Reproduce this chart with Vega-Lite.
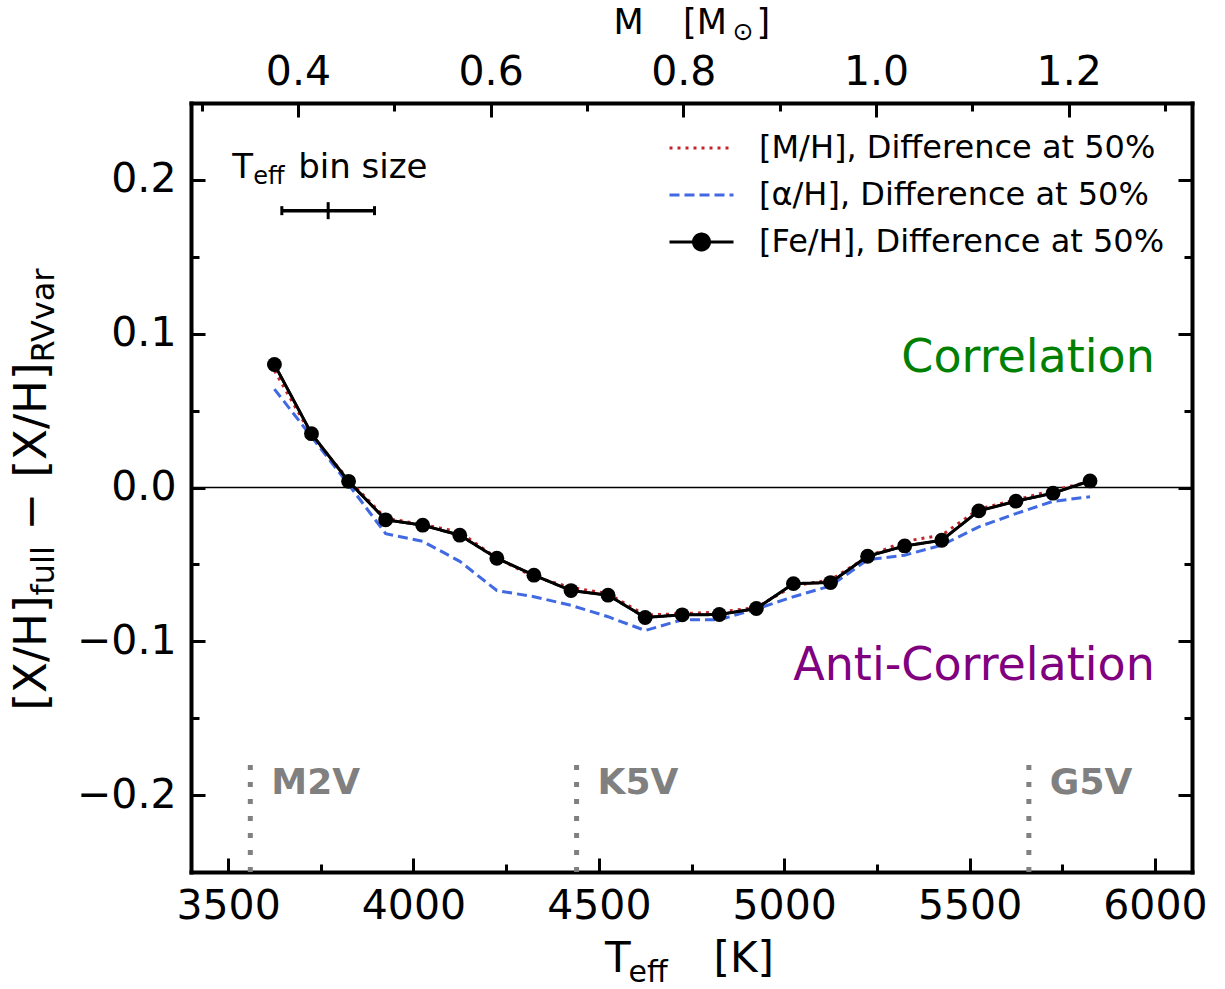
{
"$schema":"https://vega.github.io/schema/vega-lite/v6.json",
"width":1001,"height":769,
"autosize":{"type":"none"},
"padding":{"left":191,"top":103,"right":33,"bottom":117},
"background":"white",
"config":{"font":"DejaVu Sans","view":{"stroke":null},
 "axis":{"grid":false,"domainColor":"black","tickColor":"black","labelColor":"black","labelFont":"DejaVu Sans","labelFontSize":41,"domainWidth":4,"domainCap":"square","tickWidth":3,"tickCap":"butt","labelFlush":false,"labelOverlap":false}},
"datasets":{
 "main":[
  {"T":3625,"s":"[M/H], Difference at 50%","v":0.076},{"T":3725,"s":"[M/H], Difference at 50%","v":0.034},{"T":3825,"s":"[M/H], Difference at 50%","v":0.005},{"T":3925,"s":"[M/H], Difference at 50%","v":-0.020},{"T":4025,"s":"[M/H], Difference at 50%","v":-0.024},{"T":4125,"s":"[M/H], Difference at 50%","v":-0.029},{"T":4225,"s":"[M/H], Difference at 50%","v":-0.046},{"T":4325,"s":"[M/H], Difference at 50%","v":-0.058},{"T":4425,"s":"[M/H], Difference at 50%","v":-0.065},{"T":4525,"s":"[M/H], Difference at 50%","v":-0.069},{"T":4625,"s":"[M/H], Difference at 50%","v":-0.083},{"T":4725,"s":"[M/H], Difference at 50%","v":-0.082},{"T":4825,"s":"[M/H], Difference at 50%","v":-0.081},{"T":4925,"s":"[M/H], Difference at 50%","v":-0.078},{"T":5025,"s":"[M/H], Difference at 50%","v":-0.064},{"T":5125,"s":"[M/H], Difference at 50%","v":-0.060},{"T":5225,"s":"[M/H], Difference at 50%","v":-0.045},{"T":5325,"s":"[M/H], Difference at 50%","v":-0.035},{"T":5425,"s":"[M/H], Difference at 50%","v":-0.031},{"T":5525,"s":"[M/H], Difference at 50%","v":-0.014},{"T":5625,"s":"[M/H], Difference at 50%","v":-0.008},{"T":5725,"s":"[M/H], Difference at 50%","v":-0.002},{"T":5825,"s":"[M/H], Difference at 50%","v":0.004},
  {"T":3625,"s":"[α/H], Difference at 50%","v":0.064},{"T":3725,"s":"[α/H], Difference at 50%","v":0.033},{"T":3825,"s":"[α/H], Difference at 50%","v":0.002},{"T":3925,"s":"[α/H], Difference at 50%","v":-0.030},{"T":4025,"s":"[α/H], Difference at 50%","v":-0.035},{"T":4125,"s":"[α/H], Difference at 50%","v":-0.048},{"T":4225,"s":"[α/H], Difference at 50%","v":-0.067},{"T":4325,"s":"[α/H], Difference at 50%","v":-0.071},{"T":4425,"s":"[α/H], Difference at 50%","v":-0.0766},{"T":4525,"s":"[α/H], Difference at 50%","v":-0.084},{"T":4625,"s":"[α/H], Difference at 50%","v":-0.093},{"T":4725,"s":"[α/H], Difference at 50%","v":-0.086},{"T":4825,"s":"[α/H], Difference at 50%","v":-0.086},{"T":4925,"s":"[α/H], Difference at 50%","v":-0.079},{"T":5025,"s":"[α/H], Difference at 50%","v":-0.071},{"T":5125,"s":"[α/H], Difference at 50%","v":-0.064},{"T":5225,"s":"[α/H], Difference at 50%","v":-0.047},{"T":5325,"s":"[α/H], Difference at 50%","v":-0.044},{"T":5425,"s":"[α/H], Difference at 50%","v":-0.0375},{"T":5525,"s":"[α/H], Difference at 50%","v":-0.0256},{"T":5625,"s":"[α/H], Difference at 50%","v":-0.017},{"T":5725,"s":"[α/H], Difference at 50%","v":-0.009},{"T":5825,"s":"[α/H], Difference at 50%","v":-0.006},
  {"T":3625,"s":"[Fe/H], Difference at 50%","v":0.080},{"T":3725,"s":"[Fe/H], Difference at 50%","v":0.035},{"T":3825,"s":"[Fe/H], Difference at 50%","v":0.004},{"T":3925,"s":"[Fe/H], Difference at 50%","v":-0.021},{"T":4025,"s":"[Fe/H], Difference at 50%","v":-0.0245},{"T":4125,"s":"[Fe/H], Difference at 50%","v":-0.031},{"T":4225,"s":"[Fe/H], Difference at 50%","v":-0.046},{"T":4325,"s":"[Fe/H], Difference at 50%","v":-0.057},{"T":4425,"s":"[Fe/H], Difference at 50%","v":-0.067},{"T":4525,"s":"[Fe/H], Difference at 50%","v":-0.070},{"T":4625,"s":"[Fe/H], Difference at 50%","v":-0.0845},{"T":4725,"s":"[Fe/H], Difference at 50%","v":-0.0828},{"T":4825,"s":"[Fe/H], Difference at 50%","v":-0.0826},{"T":4925,"s":"[Fe/H], Difference at 50%","v":-0.0787},{"T":5025,"s":"[Fe/H], Difference at 50%","v":-0.0625},{"T":5125,"s":"[Fe/H], Difference at 50%","v":-0.0618},{"T":5225,"s":"[Fe/H], Difference at 50%","v":-0.0447},{"T":5325,"s":"[Fe/H], Difference at 50%","v":-0.038},{"T":5425,"s":"[Fe/H], Difference at 50%","v":-0.0343},{"T":5525,"s":"[Fe/H], Difference at 50%","v":-0.0152},{"T":5625,"s":"[Fe/H], Difference at 50%","v":-0.0089},{"T":5725,"s":"[Fe/H], Difference at 50%","v":-0.0037},{"T":5825,"s":"[Fe/H], Difference at 50%","v":0.0043}
 ],
 "spec":[{"T":3560,"sp":"M2V"},{"T":4440,"sp":"K5V"},{"T":5660,"sp":"G5V"}],
 "bin":[{"T":3770,"lo":3645,"hi":3895,"v":0.18}],
 "mass":[{"M":0.3},{"M":0.4},{"M":0.5},{"M":0.6},{"M":0.7},{"M":0.8},{"M":0.9},{"M":1.0},{"M":1.1},{"M":1.2},{"M":1.3}]
},
"resolve":{"scale":{"x":"independent"},"axis":{"x":"independent","y":"independent"}},
"layer":[
 {"data":{"name":"spec"},"mark":{"type":"rule","color":"#808080","strokeWidth":5,"strokeDash":[5,12]},
  "encoding":{"x":{"field":"T","type":"quantitative","scale":{"domain":[3400,6100],"nice":false,"zero":false},"axis":null},
   "y":{"datum":-0.25,"type":"quantitative","scale":{"domain":[-0.25,0.25],"nice":false,"zero":false},"axis":null},
   "y2":{"datum":-0.18}}},
 {"data":{"name":"spec"},"mark":{"type":"text","align":"left","baseline":"alphabetic","dx":21,"fontSize":36,"fontWeight":"bold","color":"#808080"},
  "encoding":{"x":{"field":"T","type":"quantitative","scale":{"domain":[3400,6100],"nice":false,"zero":false},"axis":null},
   "y":{"datum":-0.199,"type":"quantitative","scale":{"domain":[-0.25,0.25],"nice":false,"zero":false},"axis":null},
   "text":{"field":"sp"}}},
 {"mark":{"type":"rule","color":"black","strokeWidth":1.5},"data":{"values":[{"z":0}]},
  "encoding":{"y":{"field":"z","type":"quantitative","scale":{"domain":[-0.25,0.25],"nice":false,"zero":false},"axis":null}}},
 {"data":{"name":"main"},"mark":{"type":"line","strokeWidth":3},
  "encoding":{
   "x":{"field":"T","type":"quantitative","scale":{"domain":[3400,6100],"nice":false,"zero":false},"axis":{"orient":"bottom","values":[3500,4000,4500,5000,5500,6000],"format":"d","tickSize":-14,"labelPadding":60,"labelBaseline":"alphabetic","title":null}},
   "y":{"field":"v","type":"quantitative","scale":{"domain":[-0.25,0.25],"nice":false,"zero":false},"axis":{"orient":"left","values":[-0.2,-0.1,0,0.1,0.2],"format":".1f","tickSize":-14,"labelPadding":29,"title":null}},
   "color":{"field":"s","type":"nominal","scale":{"domain":["[M/H], Difference at 50%","[α/H], Difference at 50%","[Fe/H], Difference at 50%"],"range":["#c0262b","#4169e1","#000000"]},
    "legend":{"title":null,"orient":"none","legendX":477,"legendY":25,"symbolType":"stroke","symbolSize":4096,"symbolStrokeWidth":3,"labelFont":"DejaVu Sans","labelFontSize":32,"labelColor":"black","labelLimit":1000,"labelOffset":24,"rowPadding":7,"clipHeight":40,"padding":0,
     "encode":{"symbols":{"update":{"shape":{"signal":"datum.value === '[Fe/H], Difference at 50%' ? 'M-1,0L1,0M0.25,0A0.25,0.25,0,1,1,-0.25,0A0.25,0.25,0,1,1,0.25,0Z' : 'stroke'"},"fill":{"signal":"datum.value === '[Fe/H], Difference at 50%' ? 'black' : 'transparent'"}}}}}},
   "strokeDash":{"field":"s","type":"nominal","scale":{"domain":["[M/H], Difference at 50%","[α/H], Difference at 50%","[Fe/H], Difference at 50%"],"range":[[3,5],[10,5],[1,0]]}}
  }},
 {"data":{"name":"main"},"transform":[{"filter":"datum.s === '[Fe/H], Difference at 50%'"}],"mark":{"type":"line","strokeWidth":2.5,"color":"black"},
  "encoding":{"x":{"field":"T","type":"quantitative","scale":{"domain":[3400,6100],"nice":false,"zero":false},"axis":null},
   "y":{"field":"v","type":"quantitative","scale":{"domain":[-0.25,0.25],"nice":false,"zero":false},"axis":null}}},
 {"data":{"name":"main"},"transform":[{"filter":"datum.s === '[Fe/H], Difference at 50%'"}],"mark":{"type":"circle","size":220,"color":"black","opacity":1},
  "encoding":{"x":{"field":"T","type":"quantitative","scale":{"domain":[3400,6100],"nice":false,"zero":false},"axis":null},
   "y":{"field":"v","type":"quantitative","scale":{"domain":[-0.25,0.25],"nice":false,"zero":false},"axis":null}}},
 {"data":{"name":"main"},"mark":{"type":"point","opacity":0},
  "encoding":{"x":{"field":"T","type":"quantitative","scale":{"domain":[3400,6100],"nice":false,"zero":false},"axis":{"orient":"bottom","values":[3750,4250,4750,5250,5750],"labels":false,"domain":false,"tickSize":-8,"title":null}},
   "y":{"field":"v","type":"quantitative","scale":{"domain":[-0.25,0.25],"nice":false,"zero":false},"axis":{"orient":"left","values":[-0.15,-0.05,0.05,0.15],"labels":false,"domain":false,"tickSize":-8,"title":null}}}},
 {"data":{"name":"main"},"mark":{"type":"point","opacity":0},
  "encoding":{"x":{"field":"T","type":"quantitative","scale":{"domain":[3400,6100],"nice":false,"zero":false},"axis":null},
   "y":{"field":"v","type":"quantitative","scale":{"domain":[-0.25,0.25],"nice":false,"zero":false},"axis":{"orient":"right","values":[-0.2,-0.1,0,0.1,0.2],"labels":false,"domain":true,"tickSize":-14,"title":null}}}},
 {"data":{"name":"main"},"mark":{"type":"point","opacity":0},
  "encoding":{"x":{"field":"T","type":"quantitative","scale":{"domain":[3400,6100],"nice":false,"zero":false},"axis":null},
   "y":{"field":"v","type":"quantitative","scale":{"domain":[-0.25,0.25],"nice":false,"zero":false},"axis":{"orient":"right","values":[-0.15,-0.05,0.05,0.15],"labels":false,"domain":false,"tickSize":-8,"title":null}}}},
 {"data":{"name":"mass"},"mark":{"type":"point","opacity":0},
  "encoding":{"x":{"field":"M","type":"quantitative","scale":{"domain":[0.289,1.328],"nice":false,"zero":false},"axis":{"orient":"top","values":[0.4,0.6,0.8,1.0,1.2],"format":".1f","tickSize":-14,"labelPadding":33,"labelBaseline":"alphabetic","title":null}},
   "y":{"datum":0,"type":"quantitative","scale":{"domain":[-0.25,0.25],"nice":false,"zero":false},"axis":null}}},
 {"data":{"name":"mass"},"mark":{"type":"point","opacity":0},
  "encoding":{"x":{"field":"M","type":"quantitative","scale":{"domain":[0.289,1.328],"nice":false,"zero":false},"axis":{"orient":"top","values":[0.3,0.5,0.7,0.9,1.1,1.3],"labels":false,"domain":false,"tickSize":-8,"title":null}},
   "y":{"datum":0,"type":"quantitative","scale":{"domain":[-0.25,0.25],"nice":false,"zero":false},"axis":null}}},
 {"data":{"name":"bin"},"mark":{"type":"rule","color":"black","strokeWidth":3.5,"opacity":1},
  "encoding":{"x":{"field":"lo","type":"quantitative","scale":{"domain":[3400,6100],"nice":false,"zero":false},"axis":null},"x2":{"field":"hi"},
   "y":{"field":"v","type":"quantitative","scale":{"domain":[-0.25,0.25],"nice":false,"zero":false},"axis":null}}},
 {"data":{"name":"bin"},"mark":{"type":"tick","orient":"vertical","color":"black","opacity":1,"thickness":3,"size":9},
  "encoding":{"x":{"field":"lo","type":"quantitative","scale":{"domain":[3400,6100],"nice":false,"zero":false},"axis":null},
   "y":{"field":"v","type":"quantitative","scale":{"domain":[-0.25,0.25],"nice":false,"zero":false},"axis":null}}},
 {"data":{"name":"bin"},"mark":{"type":"tick","orient":"vertical","color":"black","opacity":1,"thickness":3,"size":9},
  "encoding":{"x":{"field":"hi","type":"quantitative","scale":{"domain":[3400,6100],"nice":false,"zero":false},"axis":null},
   "y":{"field":"v","type":"quantitative","scale":{"domain":[-0.25,0.25],"nice":false,"zero":false},"axis":null}}},
 {"data":{"name":"bin"},"mark":{"type":"tick","orient":"vertical","color":"black","opacity":1,"thickness":3,"size":17},
  "encoding":{"x":{"field":"T","type":"quantitative","scale":{"domain":[3400,6100],"nice":false,"zero":false},"axis":null},
   "y":{"field":"v","type":"quantitative","scale":{"domain":[-0.25,0.25],"nice":false,"zero":false},"axis":null}}},
 {"data":{"values":[{"label":"T"}]},"mark":{"type":"text","align":"left","baseline":"alphabetic","fontSize":34,"color":"black","dx":-96,"dy":-2},
  "encoding":{"x":{"datum":3770,"type":"quantitative","scale":{"domain":[3400,6100],"nice":false,"zero":false},"axis":null},"y":{"datum":0.2,"type":"quantitative","scale":{"domain":[-0.25,0.25],"nice":false,"zero":false},"axis":null},"text":{"field":"label"}}},
 {"data":{"values":[{"label":"eff"}]},"mark":{"type":"text","align":"left","baseline":"alphabetic","fontSize":24,"color":"black","dx":-75,"dy":4},
  "encoding":{"x":{"datum":3770,"type":"quantitative","scale":{"domain":[3400,6100],"nice":false,"zero":false},"axis":null},"y":{"datum":0.2,"type":"quantitative","scale":{"domain":[-0.25,0.25],"nice":false,"zero":false},"axis":null},"text":{"field":"label"}}},
 {"data":{"values":[{"label":"bin size"}]},"mark":{"type":"text","align":"left","baseline":"alphabetic","fontSize":34,"color":"black","dx":-30,"dy":-2},
  "encoding":{"x":{"datum":3770,"type":"quantitative","scale":{"domain":[3400,6100],"nice":false,"zero":false},"axis":null},"y":{"datum":0.2,"type":"quantitative","scale":{"domain":[-0.25,0.25],"nice":false,"zero":false},"axis":null},"text":{"field":"label"}}},
 {"data":{"values":[{"label":"Correlation"}]},"mark":{"type":"text","align":"right","baseline":"alphabetic","fontSize":46,"color":"#008000"},
  "encoding":{"x":{"datum":6000,"type":"quantitative","scale":{"domain":[3400,6100],"nice":false,"zero":false},"axis":null},"y":{"datum":0.075,"type":"quantitative","scale":{"domain":[-0.25,0.25],"nice":false,"zero":false},"axis":null},"text":{"field":"label"}}},
 {"data":{"values":[{"label":"Anti-Correlation"}]},"mark":{"type":"text","align":"right","baseline":"alphabetic","fontSize":46,"color":"#800080"},
  "encoding":{"x":{"datum":6000,"type":"quantitative","scale":{"domain":[3400,6100],"nice":false,"zero":false},"axis":null},"y":{"datum":-0.125,"type":"quantitative","scale":{"domain":[-0.25,0.25],"nice":false,"zero":false},"axis":null},"text":{"field":"label"}}},
 {"data":{"values":[{"label":"T"}]},"mark":{"type":"text","align":"left","baseline":"alphabetic","fontSize":42,"color":"black","dx":-86.5,"dy":100},
  "encoding":{"x":{"datum":4750,"type":"quantitative","scale":{"domain":[3400,6100],"nice":false,"zero":false},"axis":null},"y":{"datum":-0.25,"type":"quantitative","scale":{"domain":[-0.25,0.25],"nice":false,"zero":false},"axis":null},"text":{"field":"label"}}},
 {"data":{"values":[{"label":"eff"}]},"mark":{"type":"text","align":"left","baseline":"alphabetic","fontSize":30,"color":"black","dx":-63,"dy":110},
  "encoding":{"x":{"datum":4750,"type":"quantitative","scale":{"domain":[3400,6100],"nice":false,"zero":false},"axis":null},"y":{"datum":-0.25,"type":"quantitative","scale":{"domain":[-0.25,0.25],"nice":false,"zero":false},"axis":null},"text":{"field":"label"}}},
 {"data":{"values":[{"label":"[K]"}]},"mark":{"type":"text","align":"left","baseline":"alphabetic","fontSize":42,"color":"black","dx":22,"dy":100},
  "encoding":{"x":{"datum":4750,"type":"quantitative","scale":{"domain":[3400,6100],"nice":false,"zero":false},"axis":null},"y":{"datum":-0.25,"type":"quantitative","scale":{"domain":[-0.25,0.25],"nice":false,"zero":false},"axis":null},"text":{"field":"label"}}},
 {"data":{"values":[{"label":"M"}]},"mark":{"type":"text","align":"left","baseline":"alphabetic","fontSize":35,"color":"black","dx":-78,"dy":-69},
  "encoding":{"x":{"datum":4750,"type":"quantitative","scale":{"domain":[3400,6100],"nice":false,"zero":false},"axis":null},"y":{"datum":0.25,"type":"quantitative","scale":{"domain":[-0.25,0.25],"nice":false,"zero":false},"axis":null},"text":{"field":"label"}}},
 {"data":{"values":[{"label":"[M"}]},"mark":{"type":"text","align":"left","baseline":"alphabetic","fontSize":35,"color":"black","dx":-8.5,"dy":-69},
  "encoding":{"x":{"datum":4750,"type":"quantitative","scale":{"domain":[3400,6100],"nice":false,"zero":false},"axis":null},"y":{"datum":0.25,"type":"quantitative","scale":{"domain":[-0.25,0.25],"nice":false,"zero":false},"axis":null},"text":{"field":"label"}}},
 {"data":{"values":[{"label":"⊙"}]},"mark":{"type":"text","align":"left","baseline":"alphabetic","fontSize":25,"color":"black","dx":41,"dy":-63},
  "encoding":{"x":{"datum":4750,"type":"quantitative","scale":{"domain":[3400,6100],"nice":false,"zero":false},"axis":null},"y":{"datum":0.25,"type":"quantitative","scale":{"domain":[-0.25,0.25],"nice":false,"zero":false},"axis":null},"text":{"field":"label"}}},
 {"data":{"values":[{"label":"]"}]},"mark":{"type":"text","align":"left","baseline":"alphabetic","fontSize":35,"color":"black","dx":65,"dy":-69},
  "encoding":{"x":{"datum":4750,"type":"quantitative","scale":{"domain":[3400,6100],"nice":false,"zero":false},"axis":null},"y":{"datum":0.25,"type":"quantitative","scale":{"domain":[-0.25,0.25],"nice":false,"zero":false},"axis":null},"text":{"field":"label"}}},
 {"data":{"values":[{"label":"[X/H]"}]},"mark":{"type":"text","angle":270,"align":"left","baseline":"alphabetic","fontSize":45,"color":"black","dx":-223,"dy":-145},
  "encoding":{"x":{"datum":3400,"type":"quantitative","scale":{"domain":[3400,6100],"nice":false,"zero":false},"axis":null},"y":{"datum":0,"type":"quantitative","scale":{"domain":[-0.25,0.25],"nice":false,"zero":false},"axis":null},"text":{"field":"label"}}},
 {"data":{"values":[{"label":"full"}]},"mark":{"type":"text","angle":270,"align":"left","baseline":"alphabetic","fontSize":32,"color":"black","dx":-108,"dy":-137},
  "encoding":{"x":{"datum":3400,"type":"quantitative","scale":{"domain":[3400,6100],"nice":false,"zero":false},"axis":null},"y":{"datum":0,"type":"quantitative","scale":{"domain":[-0.25,0.25],"nice":false,"zero":false},"axis":null},"text":{"field":"label"}}},
 {"data":{"values":[{"label":"−"}]},"mark":{"type":"text","angle":270,"align":"left","baseline":"alphabetic","fontSize":45,"color":"black","dx":-43,"dy":-145},
  "encoding":{"x":{"datum":3400,"type":"quantitative","scale":{"domain":[3400,6100],"nice":false,"zero":false},"axis":null},"y":{"datum":0,"type":"quantitative","scale":{"domain":[-0.25,0.25],"nice":false,"zero":false},"axis":null},"text":{"field":"label"}}},
 {"data":{"values":[{"label":"[X/H]"}]},"mark":{"type":"text","angle":270,"align":"left","baseline":"alphabetic","fontSize":45,"color":"black","dx":10,"dy":-145},
  "encoding":{"x":{"datum":3400,"type":"quantitative","scale":{"domain":[3400,6100],"nice":false,"zero":false},"axis":null},"y":{"datum":0,"type":"quantitative","scale":{"domain":[-0.25,0.25],"nice":false,"zero":false},"axis":null},"text":{"field":"label"}}},
 {"data":{"values":[{"label":"RVvar"}]},"mark":{"type":"text","angle":270,"align":"left","baseline":"alphabetic","fontSize":32,"color":"black","dx":124.9,"dy":-137},
  "encoding":{"x":{"datum":3400,"type":"quantitative","scale":{"domain":[3400,6100],"nice":false,"zero":false},"axis":null},"y":{"datum":0,"type":"quantitative","scale":{"domain":[-0.25,0.25],"nice":false,"zero":false},"axis":null},"text":{"field":"label"}}}
]
}
